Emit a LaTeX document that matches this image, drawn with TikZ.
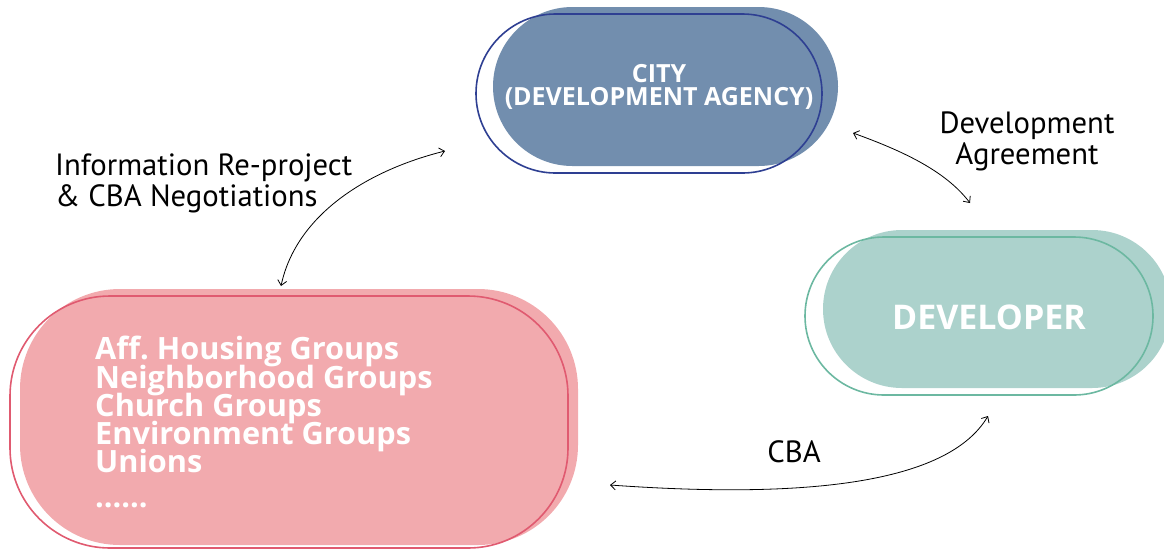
\documentclass[tikz,border=0pt]{standalone}
\usepackage{fontspec}
\setmainfont{Open Sans}
\newfontfamily\labelfont{PT Sans}
\usetikzlibrary{arrows.meta,shapes.misc}
\definecolor{cityblue}{HTML}{728EAE}
\definecolor{cityline}{HTML}{2E3F92}
\definecolor{devgreen}{HTML}{ACD2CC}
\definecolor{devline}{HTML}{6CB8A1}
\definecolor{grppink}{HTML}{F2AAAE}
\definecolor{grpline}{HTML}{E05A70}
\setlength{\lineskiplimit}{-100pt}

\begin{document}
\begin{tikzpicture}[x=1pt,y=1pt,
  blob/.style={rounded rectangle, inner sep=0pt},
  rim/.style={rounded rectangle, inner sep=0pt, draw, line width=1.6pt},
  inside/.style={text=white, inner sep=0pt},
  lbl/.style={font=\labelfont\fontsize{30.7}{31}\selectfont, inner sep=0pt},
  link/.style={{Straight Barb[length=5pt,width=9pt]}-{Straight Barb[length=5pt,width=9pt]}, line width=0.8pt}]
\useasboundingbox (0,0) rectangle (1164,-550);

% city
\node [blob, fill=cityblue, minimum width=345, minimum height=159] (city) at (665.5,-86.5) {};
\node [rim, draw=cityline, minimum width=346, minimum height=159] (cityrim) at (649,-93.5) {};
\node [inside, align=center, font=\bfseries\fontsize{25}{23}\selectfont]
  (citytext) at (659,-87) {CITY\\(DEVELOPMENT AGENCY)};

% developer
\node [blob, fill=devgreen, minimum width=348, minimum height=158] (dev) at (997,-309) {};
\node [rim, draw=devline, minimum width=348, minimum height=158] (devrim) at (979,-316) {};
\node [inside, font=\bfseries\fontsize{34}{40}\selectfont] (devtext) at (989,-317) {DEVELOPER};

% groups
\node [fill=grppink, rounded corners=100, minimum width=558, minimum height=256,
  inner sep=0pt] (grp) at (299,-417) {};
\node [draw=grpline, line width=1.6pt, rounded corners=100, minimum width=558, minimum height=252,
  inner sep=0pt] (grprim) at (289,-422) {};
\node [inside, anchor=north west, align=left, font=\bfseries\fontsize{30.7}{28.3}\selectfont]
  (grptext) at (95,-336) {Aff.\ Housing Groups\\Neighborhood Groups\\Church Groups\\Environment Groups\\Unions\\[6pt]......};

% labels
\node [lbl, align=left, anchor=west] (info) at (55,-183.5) {Information Re-project\\\& CBA Negotiations};
\node [lbl, align=center] (agree) at (1027,-141) {Development\\Agreement};
\node [lbl] (cba) at (794,-452) {CBA};

% links
\coordinate (cityW) at (445,-151);
\coordinate (grpN) at (281,-286);
\coordinate (cityE) at (853,-133);
\coordinate (devN) at (970,-203);
\coordinate (grpE) at (610,-485);
\coordinate (devS) at (988,-416);
\draw [link] (grpN) .. controls +(15,70) and +(-80,-20) .. (cityW);
\draw [link] (cityE) .. controls (900,-150) and (945,-170) .. (devN);
\draw [link] (grpE) .. controls (820,-500) and (950,-480) .. (devS);
\end{tikzpicture}
\end{document}
